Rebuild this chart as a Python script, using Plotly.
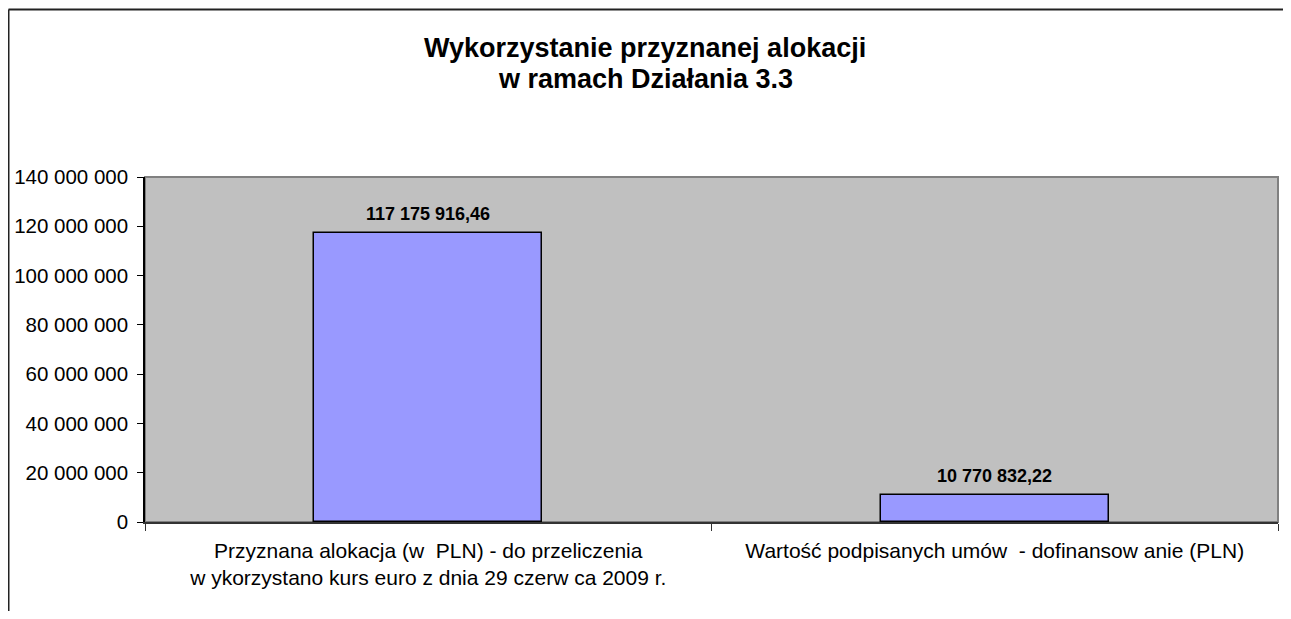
import plotly.graph_objects as go

title_lines = ["Wykorzystanie przyznanej alokacji", "w ramach Działania 3.3"]
categories = [
    "Przyznana alokacja (w  PLN) - do przeliczenia<br>w ykorzystano kurs euro z dnia 29 czerw ca 2009 r.",
    "Wartość podpisanych umów  - dofinansow anie (PLN)",
]
values = [117175916.46, 10770832.22]
value_labels = ["117 175 916,46", "10 770 832,22"]
y_tickvals = [0, 20000000, 40000000, 60000000, 80000000, 100000000, 120000000, 140000000]
y_ticktext = ["0", "20 000 000", "40 000 000", "60 000 000", "80 000 000",
              "100 000 000", "120 000 000", "140 000 000"]

# page body has an 8px margin; screen coords = figure coords + 8
OFF = 8
W, H = 1275, 603
ml, mt = 145 - OFF, 177 - OFF
mr = W - (1278 - OFF)
mb = H - (522 - OFF)
pw, ph = W - ml - mr, H - mt - mb


def sx(px):
    return (px - OFF - ml) / pw


def sy(py):
    return 1 - (py - OFF - mt) / ph


FONT = "Liberation Sans, Arial"

fig = go.Figure()
fig.add_trace(go.Bar(
    x=categories, y=values, width=0.403,
    marker=dict(color="#9999FF", line=dict(color="#000000", width=1.5)),
    hoverinfo="skip",
))

for c, v, t in zip(categories, values, value_labels):
    fig.add_annotation(x=c, y=v, text="<b>" + t + "</b>", showarrow=False,
                       yanchor="bottom", yshift=7,
                       font=dict(family=FONT, size=18, color="#000000"))

for line, cy in zip(title_lines, [48, 79]):
    fig.add_annotation(xref="paper", yref="paper", x=sx(645), y=sy(cy),
                       text="<b>" + line + "</b>", showarrow=False,
                       xanchor="center", yanchor="middle",
                       font=dict(family=FONT, size=27, color="#000000"))

# plot area border (gray)
fig.add_shape(type="rect", xref="paper", yref="paper", x0=0, x1=1, y0=0, y1=1,
              line=dict(color="#808080", width=2), fillcolor="rgba(0,0,0,0)", layer="below")

# outer chart border (left and top visible)
fig.add_shape(type="line", xref="paper", yref="paper", x0=sx(8.5), x1=sx(1300),
              y0=sy(9.5), y1=sy(9.5), line=dict(color="#222222", width=2))
fig.add_shape(type="line", xref="paper", yref="paper", x0=sx(8.5), x1=sx(8.5),
              y0=sy(9.5), y1=sy(640), line=dict(color="#222222", width=2))

fig.update_layout(
    width=W, height=H,
    margin=dict(l=ml, r=mr, t=mt, b=mb),
    paper_bgcolor="#FFFFFF", plot_bgcolor="#C0C0C0",
    showlegend=False, bargap=0,
    font=dict(family=FONT, size=20, color="#000000"),
)
fig.update_xaxes(
    showline=True, linecolor="#333333", linewidth=1.5,
    ticks="outside", tickson="boundaries", ticklen=7, tickcolor="#333333",
    tickfont=dict(size=21), ticklabelstandoff=9, showgrid=False, fixedrange=True,
)
fig.update_yaxes(
    range=[0, 140000000], tickvals=y_tickvals, ticktext=y_ticktext,
    showline=True, linecolor="#000000", linewidth=1.5,
    ticks="outside", ticklen=6, tickcolor="#000000",
    tickfont=dict(size=20.5), ticklabelstandoff=5,
    showgrid=False, zeroline=False, fixedrange=True,
)

fig.write_html("out.html")
